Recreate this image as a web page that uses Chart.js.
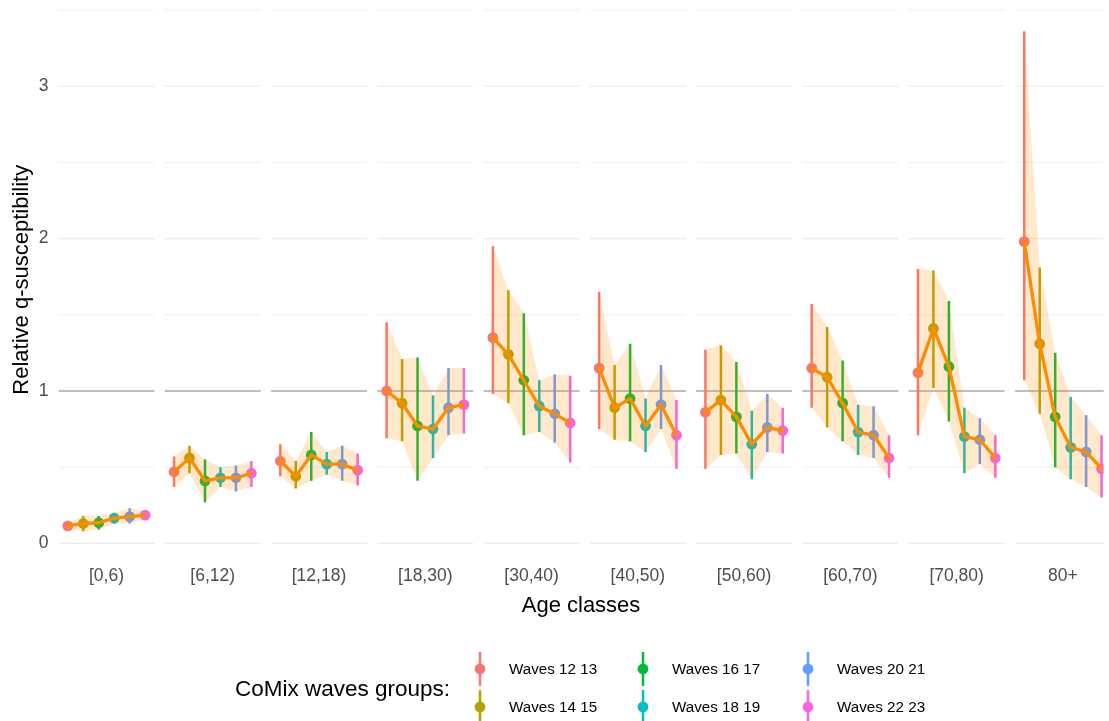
<!DOCTYPE html>
<html>
<head>
<meta charset="utf-8">
<script src="https://cdn.jsdelivr.net/npm/chart.js@4.4.1/dist/chart.umd.min.js"></script>
<style>
  html,body{margin:0;padding:0;background:#fff;}
  #wrap{width:1109px;height:721px;position:relative;}
</style>
</head>
<body>
<div id="wrap"><canvas id="chart" width="1109" height="721"></canvas></div>
<script>
/* data */
const ageClasses = ['[0,6)','[6,12)','[12,18)','[18,30)','[30,40)','[40,50)','[50,60)','[60,70)','[70,80)','80+'];
const waveGroups = ['Waves 12 13','Waves 14 15','Waves 16 17','Waves 18 19','Waves 20 21','Waves 22 23'];
const waveColors = ['#F8766D','#B79F00','#00BA38','#00BFC4','#619CFF','#F564E3'];
const yTicks = [0,1,2,3];

// one row per age class, one value per waves group
const estimate = [
  [0.115,0.13,0.135,0.165,0.175,0.185],
  [0.47,0.56,0.41,0.43,0.43,0.46],
  [0.54,0.44,0.58,0.52,0.52,0.48],
  [1.00,0.92,0.77,0.75,0.89,0.91],
  [1.35,1.24,1.07,0.90,0.85,0.79],
  [1.15,0.89,0.95,0.77,0.91,0.71],
  [0.86,0.94,0.83,0.65,0.76,0.74],
  [1.15,1.09,0.92,0.73,0.71,0.56],
  [1.12,1.41,1.16,0.70,0.68,0.56],
  [1.98,1.31,0.83,0.63,0.60,0.49]
];
const lower = [
  [0.10,0.08,0.09,0.13,0.13,0.16],
  [0.37,0.46,0.27,0.37,0.34,0.37],
  [0.44,0.36,0.41,0.45,0.41,0.38],
  [0.69,0.67,0.41,0.56,0.71,0.72],
  [0.98,0.92,0.71,0.73,0.66,0.53],
  [0.75,0.68,0.67,0.60,0.75,0.49],
  [0.49,0.58,0.59,0.42,0.60,0.59],
  [0.89,0.76,0.67,0.58,0.56,0.43],
  [0.71,1.02,0.80,0.46,0.52,0.43],
  [1.07,0.85,0.50,0.42,0.37,0.30]
];
const upper = [
  [0.13,0.18,0.18,0.20,0.23,0.21],
  [0.57,0.64,0.55,0.50,0.51,0.54],
  [0.65,0.54,0.73,0.60,0.64,0.59],
  [1.45,1.21,1.22,0.97,1.15,1.15],
  [1.95,1.66,1.51,1.07,1.11,1.10],
  [1.65,1.17,1.31,0.95,1.17,0.94],
  [1.27,1.30,1.19,0.87,0.98,0.89],
  [1.57,1.42,1.20,0.91,0.90,0.71],
  [1.80,1.79,1.59,0.89,0.82,0.71],
  [3.36,1.81,1.25,0.96,0.84,0.71]
];

/* facet layout: each panel is a run of 6 x positions, panels side by side */
const PANEL_STEP = 6.87;
const PAD = 0.6;
const xPos = (p,j) => p*PANEL_STEP + j;

const ORANGE = '#FF8C00';
const RIBBON = 'rgba(255,140,0,0.2)';
const FONT = "'Liberation Sans', Arial, sans-serif";

const datasets = [];

// points, one dataset per waves group (drawn first, under the ribbon)
waveGroups.forEach((w,j)=>{
  datasets.push({
    type:'line', label:w, showLine:false, order:3,
    data: ageClasses.map((_,p)=>({x:xPos(p,j), y:estimate[p][j]})),
    pointRadius:5.4, pointHoverRadius:5.4, pointBackgroundColor:waveColors[j], pointBorderWidth:0
  });
});

// ribbon per panel (upper filled down to lower)
ageClasses.forEach((_,p)=>{
  datasets.push({
    type:'line', label:'up'+p, order:2, fill:'+1', backgroundColor:RIBBON,
    borderWidth:0, pointRadius:0, tension:0,
    data: waveGroups.map((_,j)=>({x:xPos(p,j), y:upper[p][j]}))
  });
  datasets.push({
    type:'line', label:'lo'+p, order:2, fill:false,
    borderWidth:0, pointRadius:0, tension:0,
    data: waveGroups.map((_,j)=>({x:xPos(p,j), y:lower[p][j]}))
  });
});

// orange line, broken between panels
const lineData = [];
ageClasses.forEach((_,p)=>{
  waveGroups.forEach((_,j)=> lineData.push({x:xPos(p,j), y:estimate[p][j]}));
  lineData.push({x:xPos(p,5)+1, y:null});
});
datasets.push({
  type:'line', label:'mean', order:1, data:lineData, spanGaps:false,
  borderColor:ORANGE, borderWidth:3.3, pointRadius:0, fill:false, tension:0,
  borderJoinStyle:'round', borderCapStyle:'round'
});

/* plugin: per-panel grid, ref line at 1 and error bars */
const panelBack = {
  id:'panelBack',
  beforeDatasetsDraw(chart){
    const {ctx, chartArea:a, scales:{x,y}} = chart;
    ctx.save();
    ctx.beginPath(); ctx.rect(a.left,a.top,a.right-a.left,a.bottom-a.top); ctx.clip();
    ageClasses.forEach((_,p)=>{
      const x0 = x.getPixelForValue(p*PANEL_STEP-PAD), x1 = x.getPixelForValue(p*PANEL_STEP+5+PAD);
      for(let v=0; v<=3.5; v+=0.5){
        const major = v%1===0;
        ctx.strokeStyle = '#EBEBEB';
        ctx.lineWidth = major?1.3:0.8;
        const py = y.getPixelForValue(v);
        ctx.beginPath(); ctx.moveTo(x0,py); ctx.lineTo(x1,py); ctx.stroke();
      }
      ctx.strokeStyle = '#BEBEBE'; ctx.lineWidth = 2;
      const p1 = y.getPixelForValue(1);
      ctx.beginPath(); ctx.moveTo(x0,p1); ctx.lineTo(x1,p1); ctx.stroke();
    });
    // error bars
    ctx.lineWidth = 2.5;
    ageClasses.forEach((_,p)=>{
      waveGroups.forEach((_,j)=>{
        const px = x.getPixelForValue(xPos(p,j));
        ctx.strokeStyle = waveColors[j];
        ctx.beginPath();
        ctx.moveTo(px, y.getPixelForValue(lower[p][j]));
        ctx.lineTo(px, y.getPixelForValue(upper[p][j]));
        ctx.stroke();
      });
    });
    ctx.restore();
  },
  afterDraw(chart){
    // legend at the bottom
    const ctx = chart.ctx;
    ctx.save();
    ctx.fillStyle = '#000';
    ctx.textBaseline = 'middle';
    ctx.font = "22.5px " + FONT;
    ctx.textAlign = 'left';
    ctx.fillText('CoMix waves groups:', 235, 690);
    ctx.font = "15.2px " + FONT;
    const colX = [480,643,808], rowY = [669,707];
    waveGroups.forEach((w,j)=>{
      const cx = colX[Math.floor(j/2)], cy = rowY[j%2];
      ctx.strokeStyle = waveColors[j]; ctx.lineWidth = 2.5;
      ctx.beginPath(); ctx.moveTo(cx, cy-17); ctx.lineTo(cx, cy+17); ctx.stroke();
      ctx.fillStyle = waveColors[j];
      ctx.beginPath(); ctx.arc(cx, cy, 5.4, 0, Math.PI*2); ctx.fill();
      ctx.fillStyle = '#000';
      ctx.fillText(w, cx+29, cy+1);
    });
    ctx.restore();
  }
};

Chart.defaults.font.family = FONT;

const noPad = s => { s.paddingTop = 0; s.paddingBottom = 0; s.paddingLeft = 0; s.paddingRight = 0; };

new Chart(document.getElementById('chart').getContext('2d'), {
  type:'line',
  data:{datasets},
  options:{
    responsive:false, animation:false, events:[],
    layout:{padding:{top:2,right:0,bottom:0,left:0}},
    plugins:{legend:{display:false}, tooltip:{enabled:false}},
    scales:{
      x:{
        type:'linear', min:-PAD, max:66.96,
        grid:{display:false, drawTicks:false}, border:{display:false},
        afterBuildTicks: s => { s.ticks = ageClasses.map((_,p)=>({value:p*PANEL_STEP+2.5})); },
        afterFit: s => { s.height = 167; noPad(s); },
        ticks:{autoSkip:false, maxRotation:0, padding:12, color:'#4D4D4D', font:{size:17.5},
          callback:(v,i)=>ageClasses[i]},
        title:{display:true, text:'Age classes', color:'#000', font:{size:22}, padding:{top:0,bottom:102}}
      },
      y:{
        min:-0.07, max:3.53,
        grid:{display:false, drawTicks:false}, border:{display:false},
        afterBuildTicks: s => { s.ticks = yTicks.map(v=>({value:v})); },
        afterFit: s => { s.width = 58.5; noPad(s); },
        ticks:{padding:10, color:'#4D4D4D', font:{size:17.5}},
        title:{display:true, text:'Relative q-susceptibility', color:'#000', font:{size:22}, padding:{top:9,bottom:0}}
      }
    }
  },
  plugins:[panelBack]
});
</script>
</body>
</html>
